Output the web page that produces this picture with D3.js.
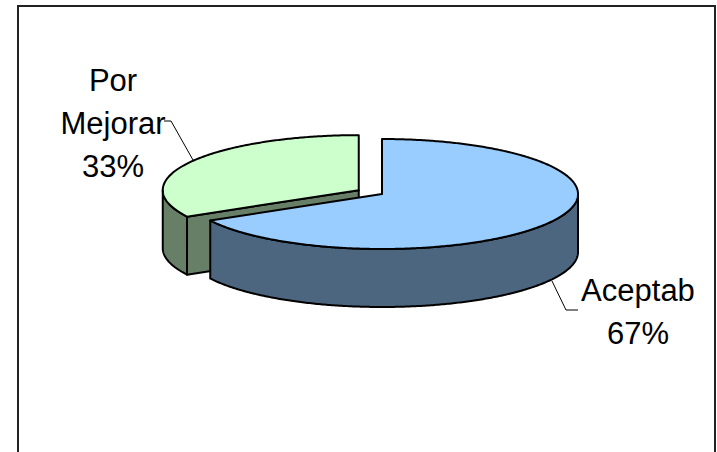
<!DOCTYPE html>
<html>
<head>
<meta charset="utf-8">
<script src="https://cdn.jsdelivr.net/npm/d3@7"></script>
<style>
  html, body { margin: 0; padding: 0; background: #fff; }
  svg { display: block; }
</style>
</head>
<body>
<svg id="chart" width="717" height="452"></svg>
<script>
// Survey result: share of answers per category
const categories = ["Aceptab", "Por Mejorar"];
const values = [67, 33];
const labelLines = [["Aceptab"], ["Por", "Mejorar"]];
const topColors = ["#99CCFF", "#CCFFCC"];
const sideColors = ["#4C667F", "#667F66"];

const svg = d3.select("#chart");

// chart frame
svg.append("rect")
  .attr("x", 18).attr("y", 6)
  .attr("width", 697).attr("height", 470)
  .attr("fill", "#fff")
  .attr("stroke", "#222").attr("stroke-width", 2);

// 3D pie geometry
const cx = 382, cy = 194;      // centre of the main slice
const rx = 196, ry = 55;       // ellipse radii of the top face
const depth = 58;              // thickness of the disc
const explode = [0, 27];       // radial offset of each slice

const pie = d3.pie().sort(null).value(d => d)(values);
const total = d3.sum(values);

const slices = pie.map((p, i) => {
  const mid = (p.startAngle + p.endAngle) / 2;
  const e = explode[i];
  return {
    i, name: categories[i], a0: p.startAngle, a1: p.endAngle,
    c: [cx + e * Math.sin(mid), cy - e * Math.cos(mid) * ry / rx]
  };
});

function pt(c, a, dz) {
  return [c[0] + rx * Math.sin(a), c[1] - ry * Math.cos(a) + (dz || 0)];
}
function arcPts(c, a0, a1, dz) {
  const n = Math.max(2, Math.ceil(Math.abs(a1 - a0) / 0.01));
  return d3.range(n + 1).map(k => pt(c, a0 + (a1 - a0) * k / n, dz));
}
const line = d3.line();
const closed = pts => line(pts) + "Z";

function face(d, fill) {
  svg.append("path").attr("d", d).attr("fill", fill)
    .attr("stroke", "#000").attr("stroke-width", 2)
    .attr("stroke-linejoin", "round");
}

// visible pieces of a slice: cut faces facing the viewer, front wall, top
function drawSlice(s) {
  const c = s.c;
  const H = Math.PI / 2, TH = 3 * Math.PI / 2;
  if (s.a0 > Math.PI && s.a0 < TH + 0.0001) {
    const p = pt(c, s.a0);
    face(closed([c, p, [p[0], p[1] + depth], [c[0], c[1] + depth]]), sideColors[s.i]);
  }
  if (s.a1 > 0 && s.a1 < Math.PI) {
    const p = pt(c, s.a1);
    face(closed([c, p, [p[0], p[1] + depth], [c[0], c[1] + depth]]), sideColors[s.i]);
  }
  const w0 = Math.max(s.a0, H), w1 = Math.min(s.a1, TH);
  if (w1 > w0) {
    const top = arcPts(c, w0, w1, 0);
    const bot = arcPts(c, w1, w0, depth);
    face(closed(top.concat(bot)), sideColors[s.i]);
  }
  face(closed([c].concat(arcPts(c, s.a0, s.a1, 0))), topColors[s.i]);
}

// back slice first, then the front one
drawSlice(slices[1]);
drawSlice(slices[0]);

// labels with leader lines
const fmt = v => Math.round(v / total * 100) + "%";
const labelPos = [
  { x: 638, y: 301, leader: [[552, 281], [566, 310], [578, 310]] },
  { x: 113, y: 91,  leader: [[193, 160], [171, 121], [164, 121]] }
];
const lineGap = 43;

slices.forEach(s => {
  const L = labelPos[s.i];
  svg.append("path")
    .attr("d", d3.line()(L.leader))
    .attr("fill", "none").attr("stroke", "#000").attr("stroke-width", 1);
  const lines = labelLines[s.i].concat([fmt(values[s.i])]);
  const t = svg.append("text")
    .attr("text-anchor", "middle")
    .attr("font-family", "'Liberation Sans', Arial, sans-serif")
    .attr("font-size", 31)
    .attr("fill", "#000");
  lines.forEach((txt, k) => {
    t.append("tspan").attr("x", L.x).attr("y", L.y + k * lineGap).text(txt);
  });
});
</script>
</body>
</html>
